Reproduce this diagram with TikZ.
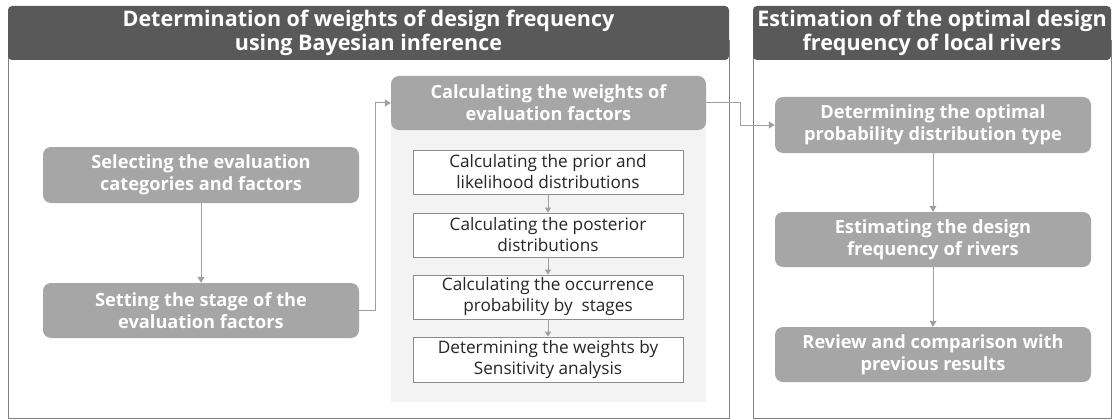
\documentclass[tikz,border=0pt]{standalone}
\usepackage{fontspec}
\setmainfont{Open Sans}
\usetikzlibrary{arrows.meta,positioning}
\definecolor{hdr}{HTML}{595959}
\definecolor{boxg}{HTML}{A6A6A6}
\definecolor{frameg}{HTML}{7F7F7F}
\definecolor{arrg}{HTML}{A0A0A0}
\definecolor{panelg}{HTML}{F3F3F3}
\definecolor{subb}{HTML}{8C8C8C}
\begin{document}
\begin{tikzpicture}[x=1pt,y=-1pt,
  hdrtext/.style={text=white,font=\bfseries\fontsize{21.5}{24.5}\selectfont,align=center,inner sep=0pt},
  graybox/.style={fill=boxg,draw=none,rounded corners=8pt,text=white,
    font=\bfseries\fontsize{18.2}{22}\selectfont,align=center,inner sep=0pt},
  subbox/.style={fill=white,draw=subb,line width=0.8pt,text=black!85,
    font=\fontsize{17.2}{21}\selectfont,align=center,inner sep=0pt,
    minimum width=270pt,minimum height=44pt},
  conn/.style={draw=arrg,line width=1pt,-{Triangle[width=7pt,length=6pt]}},
  subconn/.style={draw=arrg,line width=1pt,-{Triangle[width=6pt,length=5pt]}}
]
\useasboundingbox (0,0) rectangle (1112,420);
% left panel
\fill[white] (0,0) rectangle (1112,420);
\draw[frameg,line width=1pt] (8,40) -- (8,418) -- (729,418) -- (729,40);
\fill[hdr,rounded corners=4pt] (8,60) -- (8,6) -- (729,6) -- (729,60) -- cycle;
\node[hdrtext] (lh) at (368.5,33) {Determination of weights of design frequency\\using Bayesian inference};
% right panel
\draw[frameg,line width=1pt] (753,40) -- (753,418) -- (1111,418) -- (1111,40);
\fill[hdr,rounded corners=4pt] (753,60) -- (753,6) -- (1111,6) -- (1111,60) -- cycle;
\node[hdrtext] (rh) at (932,33) {Estimation of the optimal design\\frequency of local rivers};
% inner panel
\fill[panelg] (391,120) rectangle (706,402);
% left boxes
\node[graybox,minimum width=316pt,minimum height=56pt] (sel) at (201,175) {Selecting the evaluation\\categories and factors};
\node[graybox,minimum width=316pt,minimum height=55pt] (set) at (201,310.5) {Setting the stage of the\\evaluation factors};
\node[graybox,minimum width=315pt,minimum height=54pt] (calc) at (548.5,103) {Calculating the weights of\\evaluation factors};
% sub boxes
\node[subbox] (s1) at (548,172) {Calculating the prior and\\likelihood distributions};
\node[subbox] (s2) at (548,235) {Calculating the posterior\\distributions};
\node[subbox] (s3) at (548,297) {Calculating the occurrence\\probability by\ \ stages};
\node[subbox,minimum height=45pt] (s4) at (548,359.5) {Determining the weights by\\Sensitivity analysis};
% right boxes
\node[graybox,minimum width=316pt,minimum height=56pt] (r1) at (933,125) {Determining the optimal\\probability distribution type};
\node[graybox,minimum width=316pt,minimum height=55pt] (r2) at (933,239.5) {Estimating the design\\frequency of rivers};
\node[graybox,minimum width=316pt,minimum height=55pt] (r3) at (933,354.5) {Review and comparison with\\previous results};
% connectors
\draw[conn] (sel.south) -- (set.north);
\draw[conn] (set.east) -- (375,310.5) -- (375,103) -- (calc.west);
\draw[conn] (calc.east) -- (740,103) -- (740,125) -- (r1.west);
\draw[conn] (r1.south) -- (r2.north);
\draw[conn] (r2.south) -- (r3.north);
\draw[subconn] (s1.south) -- (s2.north);
\draw[subconn] (s2.south) -- (s3.north);
\draw[subconn] (s3.south) -- (s4.north);
\end{tikzpicture}
\end{document}
